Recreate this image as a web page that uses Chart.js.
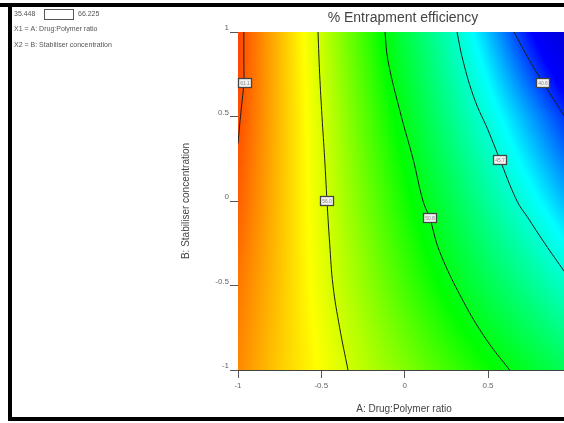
<!DOCTYPE html>
<html>
<head>
<meta charset="utf-8">
<script src="https://cdn.jsdelivr.net/npm/chart.js@4.4.1/dist/chart.umd.min.js"></script>
<style>
  html, body { margin: 0; padding: 0; background: #fff; }
  canvas { display: block; }
</style>
</head>
<body>
<canvas id="contour" width="564" height="423"></canvas>
<script>
// response surface: rows of % entrapment at each B level
const gridX = [-1, -0.75, -0.5, -0.25, 0, 0.25, 0.5, 0.75, 1]
const gridY = [-1, -0.5, 0, 0.5, 1]
const effBm1  = [59.8, 58.2, 56.9, 55.5, 54.2, 52.8, 51.5, 50.2, 48.8]
const effBm05 = [60.2, 58.4, 56.5, 54.7, 52.8, 51.0, 49.2, 47.5, 45.7]
const effB0   = [60.8, 58.5, 56.3, 54.0, 51.7, 49.5, 47.2, 45.0, 42.8]
const effB05  = [61.2, 58.6, 56.1, 53.4, 50.6, 47.9, 45.3, 42.7, 40.1]
const effB1   = [61.4, 58.6, 55.8, 52.7, 49.5, 46.6, 43.3, 39.7, 36.2]
const effRows = [effBm1, effBm05, effB0, effB05, effB1]

// contour lines
const contourLevels = [61.1, 56.0, 50.8, 45.7, 40.6]
const contour611 = [[-0.965, 1], [-0.965, 0.83], [-0.965, 0.70], [-0.98, 0.55], [-0.99, 0.45], [-1, 0.34]]
const contour560 = [[-0.52, 1], [-0.51, 0.75], [-0.496, 0.5], [-0.48, 0.25], [-0.466, 0], [-0.45, -0.25], [-0.43, -0.5], [-0.39, -0.75], [-0.34, -1]]
const contour508 = [[-0.118, 1], [-0.1, 0.83], [-0.02, 0.5], [0.05, 0.25], [0.11, 0], [0.15, -0.1], [0.21, -0.3], [0.35, -0.59], [0.49, -0.82], [0.63, -1]]
const contour457 = [[0.314, 1], [0.35, 0.83], [0.42, 0.6], [0.5, 0.42], [0.572, 0.243], [0.674, 0], [0.74, -0.1], [0.84, -0.25], [0.96, -0.42]]
const contour406 = [[0.656, 1], [0.75, 0.83], [0.83, 0.70], [0.96, 0.50]]
const contourLines = [contour611, contour560, contour508, contour457, contour406]
const labelX = [-0.96, -0.466, 0.15, 0.572, 0.83]
const labelY = [0.70, 0, -0.1, 0.243, 0.70]

const xTicks = [-1, -0.5, 0, 0.5]
const yTicks = [-1, -0.5, 0, 0.5, 1]
const rangeLow = '35.448'
const rangeHigh = '66.225'

const colorStops = [
    [36, [0, 0, 205]],
    [39.5, [0, 0, 255]],
    [44.5, [0, 255, 255]],
    [51.3, [0, 255, 0]],
    [57, [255, 255, 0]],
    [63, [255, 0, 0]]
]

function colourFor(v) {
    if (v <= colorStops[0][0]) return colorStops[0][1]
    for (let i = 1; i < colorStops.length; i++) {
        if (v <= colorStops[i][0]) {
            const [v0, c0] = colorStops[i - 1], [v1, c1] = colorStops[i]
            const t = (v - v0) / (v1 - v0)
            return c0.map((c, k) => c + (c1[k] - c) * t)
        }
    }
    return colorStops[colorStops.length - 1][1]
}

function cellIndex(arr, v) {
    let i = 0
    while (i < arr.length - 2 && v > arr[i + 1]) i++
    return i
}

function valueAt(vx, vy) {
    const i = cellIndex(gridX, vx), j = cellIndex(gridY, vy)
    const tx = (vx - gridX[i]) / (gridX[i + 1] - gridX[i])
    const ty = (vy - gridY[j]) / (gridY[j + 1] - gridY[j])
    const lo = effRows[j][i] + (effRows[j][i + 1] - effRows[j][i]) * tx
    const hi = effRows[j + 1][i] + (effRows[j + 1][i + 1] - effRows[j + 1][i]) * tx
    return lo + (hi - lo) * ty
}

const heatmap = {
    id: 'heatmap',
    beforeDatasetsDraw(chart) {
        const { ctx, chartArea: a, scales: { x, y } } = chart
        const left = Math.round(a.left), top = Math.round(a.top)
        const w = Math.round(a.right) - left, h = Math.round(a.bottom) - top
        const img = ctx.createImageData(w, h)
        for (let j = 0; j < h; j++) {
            const vy = y.getValueForPixel(top + j + 0.5)
            for (let i = 0; i < w; i++) {
                const c = colourFor(valueAt(x.getValueForPixel(left + i + 0.5), vy))
                const k = (j * w + i) * 4
                img.data[k] = c[0]
                img.data[k + 1] = c[1]
                img.data[k + 2] = c[2]
                img.data[k + 3] = 255
            }
        }
        ctx.putImageData(img, left, top)
    }
}

const contourLabels = {
    id: 'contourLabels',
    afterDatasetsDraw(chart) {
        const { ctx, scales: { x, y } } = chart
        ctx.save()
        ctx.font = '5px "Liberation Sans"'
        ctx.textAlign = 'center'
        ctx.textBaseline = 'middle'
        for (let i = 0; i < contourLevels.length; i++) {
            const px = Math.round(x.getPixelForValue(labelX[i]))
            const py = Math.round(y.getPixelForValue(labelY[i]))
            ctx.fillStyle = '#f2f2f2'
            ctx.fillRect(px - 6, py - 4, 13, 9)
            ctx.strokeStyle = '#444'
            ctx.lineWidth = 1.3
            ctx.strokeRect(px - 6.5, py - 4.5, 13, 9)
            ctx.fillStyle = '#888'
            ctx.fillText(contourLevels[i].toFixed(1), px, py + 0.5)
        }
        ctx.restore()
    }
}

const texts = {
    id: 'texts',
    afterDraw(chart) {
        const { ctx, chartArea: a } = chart
        ctx.save()
        ctx.fillStyle = '#444'
        ctx.textBaseline = 'middle'
        ctx.textAlign = 'center'
        ctx.font = '14px "Liberation Sans"'
        ctx.fillText('% Entrapment efficiency', 403, 18)
        ctx.font = '10px "Liberation Sans"'
        ctx.fillText('A: Drug:Polymer ratio', 404, 409)
        ctx.save()
        ctx.translate(186, (a.top + a.bottom) / 2)
        ctx.rotate(-Math.PI / 2)
        ctx.fillText('B: Stabiliser concentration', 0, 0)
        ctx.restore()

        ctx.textAlign = 'left'
        ctx.font = '7px "Liberation Sans"'
        ctx.fillStyle = '#555'
        ctx.fillText(rangeLow, 14, 14)
        ctx.fillText(rangeHigh, 78, 14)
        ctx.fillText('X1 = A: Drug:Polymer ratio', 14, 29)
        ctx.fillText('X2 = B: Stabiliser concentration', 14, 45)
        ctx.strokeStyle = '#555'
        ctx.lineWidth = 1
        ctx.strokeRect(44.5, 9.5, 29, 10)

        // frame
        ctx.fillStyle = '#000'
        ctx.fillRect(0, 3, 564, 4)
        ctx.fillRect(8, 3, 4, 418)
        ctx.fillRect(8, 417, 556, 4)
        ctx.restore()
    }
}

const lineDatasets = contourLines.map((pts, i) => ({
    label: String(contourLevels[i]),
    data: pts.map(p => ({ x: p[0], y: p[1] })),
    showLine: true,
    borderColor: '#1c1c1c',
    borderWidth: 1,
    pointRadius: 0,
    tension: 0.4
}))

const chart = new Chart(document.getElementById('contour'), {
    type: 'scatter',
    data: { datasets: lineDatasets },
    options: {
        responsive: false,
        animation: false,
        layout: { padding: { top: 32, right: 0, bottom: 0, left: 0 } },
        plugins: { legend: { display: false }, tooltip: { enabled: false } },
        scales: {
            x: {
                type: 'linear', min: -1, max: 0.956,
                afterBuildTicks: s => { s.ticks = xTicks.map(v => ({ value: v })) },
                afterFit: s => { s.height = 53 },
                ticks: { color: '#666', font: { size: 8, family: 'Liberation Sans' }, padding: 3, maxRotation: 0, callback: v => String(v) },
                grid: { drawOnChartArea: false, drawTicks: true, tickLength: 8, color: '#555' },
                border: { display: true, color: '#444' }
            },
            y: {
                type: 'linear', min: -1, max: 1,
                afterBuildTicks: s => { s.ticks = yTicks.map(v => ({ value: v })) },
                afterFit: s => { s.width = 238 },
                ticks: { color: '#666', font: { size: 8, family: 'Liberation Sans' }, padding: 1, labelOffset: -4, callback: v => String(v) },
                grid: { drawOnChartArea: false, drawTicks: true, tickLength: 8, color: '#555' },
                border: { display: true, color: '#444' }
            }
        }
    },
    plugins: [heatmap, contourLabels, texts]
})
</script>
</body>
</html>
